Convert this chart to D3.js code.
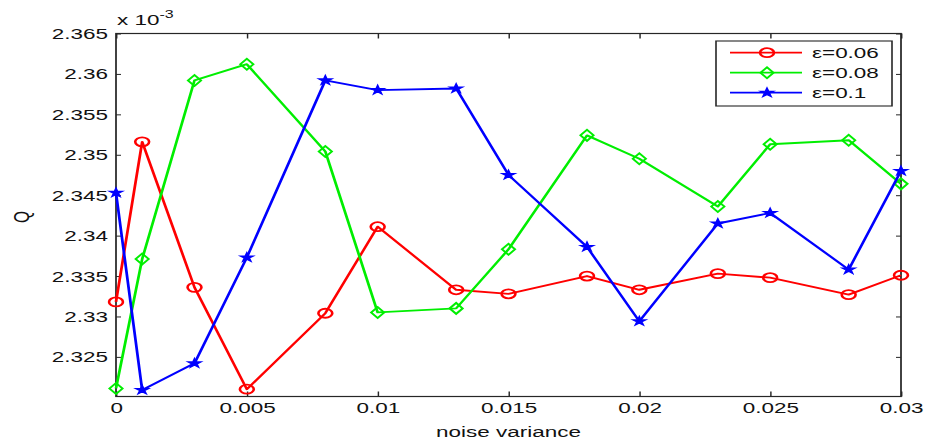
<!DOCTYPE html>
<html>
<head>
<meta charset="utf-8">
<script src="https://cdn.jsdelivr.net/npm/d3@7"></script>
<style>
body { margin: 0; background: #fff; }
text { font-family: "Liberation Sans", Arial, sans-serif; fill: #111; }
</style>
</head>
<body>
<svg id="chart" width="936" height="440"></svg>
<script>
// data
var noiseVar = [0, 0.001, 0.003, 0.005, 0.008, 0.01, 0.013, 0.015, 0.018, 0.02, 0.023, 0.025, 0.028, 0.03];
var qEps006 = [2.3318, 2.3516, 2.3336, 2.3210, 2.3304, 2.3411, 2.3333, 2.3328, 2.3350, 2.3333, 2.3353, 2.3348, 2.3327, 2.3351];
var qEps008 = [2.3211, 2.3371, 2.3592, 2.3612, 2.3504, 2.3305, 2.3310, 2.3383, 2.3524, 2.3495, 2.3436, 2.3513, 2.3518, 2.3464];
var qEps01  = [2.3453, 2.3209, 2.3242, 2.3373, 2.3592, 2.3580, 2.3582, 2.3475, 2.3386, 2.3294, 2.3415, 2.3428, 2.3358, 2.3480];
var seriesNames = ["ε=0.06", "ε=0.08", "ε=0.1"];
var xTicks = [0, 0.005, 0.01, 0.015, 0.02, 0.025, 0.03];
var yTicks = [2.325, 2.33, 2.335, 2.34, 2.345, 2.35, 2.355, 2.36, 2.365];

// the original figure is stretched sideways, so draw in a squeezed frame and scale it out
var SX = 1.45;
var FS = 15.5;
var plotLeft = 116 / SX, plotRight = 901 / SX, plotTop = 33.5, plotBottom = 396.5;

var svg = d3.select("#chart");
var g = svg.append("g").attr("transform", `scale(${SX},1)`);

var x = d3.scaleLinear().domain([0, 0.03]).range([plotLeft, plotRight]);
var y = d3.scaleLinear().domain([2.3201, 2.365]).range([plotBottom, plotTop]);

var series = [
    {name: seriesNames[0], values: qEps006, color: "#ff0000", marker: "circle"},
    {name: seriesNames[1], values: qEps008, color: "#00ee00", marker: "diamond"},
    {name: seriesNames[2], values: qEps01,  color: "#0000ff", marker: "star"}
];

function styleAxis(sel) {
    sel.select(".domain").remove();
    sel.selectAll(".tick line").attr("stroke", "#262626").attr("stroke-width", 1);
    sel.selectAll("text").attr("font-size", FS).attr("fill", "#111")
        .style("font-family", '"Liberation Sans", Arial, sans-serif');
}

g.append("g").attr("transform", `translate(0,${plotBottom})`)
    .call(d3.axisBottom(x).tickValues(xTicks).tickSize(-5).tickPadding(6).tickFormat(d => String(d)))
    .call(styleAxis);
g.append("g").attr("transform", `translate(0,${plotTop})`)
    .call(d3.axisTop(x).tickValues(xTicks).tickSize(-5).tickFormat(""))
    .call(styleAxis);
g.append("g").attr("transform", `translate(${plotLeft},0)`)
    .call(d3.axisLeft(y).tickValues(yTicks).tickSize(-5 / SX).tickPadding(5.5).tickFormat(d => String(d)))
    .call(styleAxis);
g.append("g").attr("transform", `translate(${plotRight},0)`)
    .call(d3.axisRight(y).tickValues(yTicks).tickSize(-5 / SX).tickFormat(""))
    .call(styleAxis);

g.append("rect")
    .attr("x", plotLeft).attr("y", plotTop)
    .attr("width", plotRight - plotLeft).attr("height", plotBottom - plotTop)
    .attr("fill", "none").attr("stroke", "#262626").attr("stroke-width", 1.2);

var line = d3.line().x((d, i) => x(noiseVar[i])).y(d => y(d));

function drawMarker(sel, type, color) {
    if (type == "circle") {
        sel.append("ellipse").attr("rx", 4.8).attr("ry", 4.5)
            .attr("fill", "none").attr("stroke", color).attr("stroke-width", 1.8);
    } else if (type == "diamond") {
        sel.append("path").attr("d", "M -4.5 0 L 0 -5.5 L 4.5 0 L 0 5.5 Z")
            .attr("fill", "none").attr("stroke", color).attr("stroke-width", 1.6);
    } else {
        sel.append("path").attr("d", d3.symbol(d3.symbolStar, 24)())
            .attr("fill", color).attr("stroke", color).attr("stroke-width", 1.2);
    }
}

var plot = g.append("g");
series.forEach(s => {
    plot.append("path")
        .attr("d", line(s.values))
        .attr("fill", "none")
        .attr("stroke", s.color)
        .attr("stroke-width", 1.9)
        .attr("stroke-linejoin", "round");
    s.values.forEach((v, i) => {
        var m = plot.append("g").attr("transform", `translate(${x(noiseVar[i])},${y(v)})`);
        drawMarker(m, s.marker, s.color);
    });
});

// axis labels
g.append("text")
    .attr("x", x(0.015)).attr("y", 437)
    .attr("text-anchor", "middle").attr("font-size", FS)
    .text("noise variance");
g.append("text")
    .attr("transform", `translate(${29 / SX},217) rotate(-90)`)
    .attr("text-anchor", "middle").attr("font-size", FS)
    .text("Q");

var expo = g.append("text").attr("x", 117 / SX).attr("y", 25).attr("font-size", FS);
expo.append("tspan").text("x 10");
expo.append("tspan").attr("dy", -7).attr("font-size", 11).text("-3");

// legend
var legend = g.append("g");
legend.append("rect")
    .attr("x", 716 / SX).attr("y", 41)
    .attr("width", (892 - 716) / SX).attr("height", 65)
    .attr("fill", "#fff").attr("stroke", "#262626").attr("stroke-width", 1.1);
series.forEach((s, i) => {
    var ry = 52.7 + i * 20;
    legend.append("line")
        .attr("x1", 730 / SX).attr("x2", 802 / SX)
        .attr("y1", ry).attr("y2", ry)
        .attr("stroke", s.color).attr("stroke-width", 1.8);
    drawMarker(legend.append("g").attr("transform", `translate(${767 / SX},${ry})`), s.marker, s.color);
    legend.append("text")
        .attr("x", 812 / SX).attr("y", ry + 5.5)
        .attr("font-size", FS)
        .text(s.name);
});
</script>
</body>
</html>
